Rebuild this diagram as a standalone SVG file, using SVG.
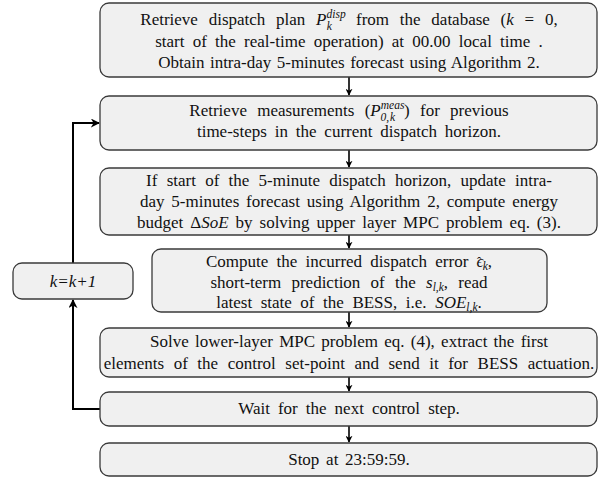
<svg xmlns="http://www.w3.org/2000/svg" width="608" height="477" viewBox="0 0 608 477">
<style>
.box{fill:#f0f0f0;stroke:#3a3a3a;stroke-width:1.3}
.t{font-family:"Liberation Serif","Times New Roman",serif;font-size:17px;fill:#111;text-anchor:middle}
.m{font-style:italic}
.s{font-size:11.5px;font-style:italic}
.c{fill:none;stroke:#000;stroke-width:1.6}
.loop{fill:none;stroke:#000;stroke-width:2}
</style>
<defs>
<marker id="ah" viewBox="0 0 10 10" refX="9" refY="5" markerWidth="7" markerHeight="7" markerUnits="userSpaceOnUse" orient="auto">
<path d="M0,0 L10,5 L0,10 L3,5 Z" fill="#000"/>
</marker>
<marker id="ah2" viewBox="0 0 10 10" refX="9" refY="5" markerWidth="9" markerHeight="9" markerUnits="userSpaceOnUse" orient="auto">
<path d="M0,0 L10,5 L0,10 L3,5 Z" fill="#000"/>
</marker>
</defs>
<g id="connectors">
<line class="c" x1="349" y1="77" x2="349" y2="95" marker-end="url(#ah)"/>
<line class="c" x1="349" y1="150" x2="349" y2="167" marker-end="url(#ah)"/>
<line class="c" x1="349" y1="235" x2="349" y2="248" marker-end="url(#ah)"/>
<line class="c" x1="349" y1="312" x2="349" y2="327" marker-end="url(#ah)"/>
<line class="c" x1="349" y1="377" x2="349" y2="391" marker-end="url(#ah)"/>
<line class="c" x1="349" y1="426" x2="349" y2="442" marker-end="url(#ah)"/>
<polyline class="loop" points="100,409 73,409 73,300" marker-end="url(#ah2)"/>
<polyline class="loop" points="73,263 73,123 99,123" marker-end="url(#ah2)"/>
</g>
<g id="n1">
<rect class="box" x="100" y="3" width="497" height="74" rx="9"/>
<text class="t" x="349" y="25" word-spacing="6.5">Retrieve dispatch plan <tspan class="m">P</tspan><tspan class="s" dy="-7.5">disp</tspan><tspan class="s" dy="12.5" dx="-19">k</tspan><tspan dy="-5" dx="13.5"> from the database (</tspan><tspan class="m">k</tspan> = 0,</text>
<text class="t" x="349" y="47" word-spacing="4">start of the real-time operation) at 00.00 local time .</text>
<text class="t" x="349" y="68" word-spacing="1.2">Obtain intra-day 5-minutes forecast using Algorithm 2.</text>
</g>
<g id="n2">
<rect class="box" x="100" y="96" width="497" height="54" rx="9"/>
<text class="t" x="349" y="116" word-spacing="6">Retrieve measurements (<tspan class="m">P</tspan><tspan class="s" dy="-7.5">meas</tspan><tspan class="s" dy="12.5" dx="-24" font-style="normal" word-spacing="0">0,</tspan><tspan class="s" dx="1">k</tspan><tspan dy="-5" dx="9">) for previous</tspan></text>
<text class="t" x="349" y="137" word-spacing="3.6">time-steps in the current dispatch horizon.</text>
</g>
<g id="n3">
<rect class="box" x="100" y="168" width="497" height="67" rx="9"/>
<text class="t" x="349" y="186" word-spacing="5">If start of the 5-minute dispatch horizon, update intra-</text>
<text class="t" x="349" y="207" word-spacing="2.6">day 5-minutes forecast using Algorithm 2, compute energy</text>
<text class="t" x="349" y="228" word-spacing="2.7">budget Δ<tspan class="m">SoE</tspan> by solving upper layer MPC problem eq. (3).</text>
</g>
<g id="n4">
<rect class="box" x="152" y="249" width="395" height="63" rx="9"/>
<text class="t" x="349" y="267" word-spacing="4">Compute the incurred dispatch error <tspan class="m">ϵ</tspan><tspan font-size="13" dx="-6.5" dy="-1">ˆ</tspan><tspan class="s" dx="1.5" dy="4">k</tspan><tspan dy="-3">,</tspan></text>
<text class="t" x="349" y="288" word-spacing="6">short-term prediction of the <tspan class="m">s</tspan><tspan class="s" dy="3">l,k</tspan><tspan dy="-3">, read</tspan></text>
<text class="t" x="349" y="308" word-spacing="4.3">latest state of the BESS, i.e. <tspan class="m">SOE</tspan><tspan class="s" dy="3">l,k</tspan><tspan dy="-3">.</tspan></text>
</g>
<g id="n5">
<rect class="box" x="100" y="328" width="497" height="49" rx="9"/>
<text class="t" x="349" y="347" word-spacing="2">Solve lower-layer MPC problem eq. (4), extract the first</text>
<text class="t" x="349" y="369" word-spacing="5.3">elements of the control set-point and send it for BESS actuation.</text>
</g>
<g id="n6">
<rect class="box" x="100" y="392" width="497" height="34" rx="9"/>
<text class="t" x="349" y="414" word-spacing="3.8">Wait for the next control step.</text>
</g>
<g id="n7">
<rect class="box" x="100" y="443" width="497" height="33" rx="9"/>
<text class="t" x="349" y="465" word-spacing="2.5">Stop at 23:59:59.</text>
</g>
<g id="nk">
<rect class="box" x="13" y="263" width="120" height="36" rx="9"/>
<text class="t m" x="73" y="287">k=k+1</text>
</g>
</svg>
